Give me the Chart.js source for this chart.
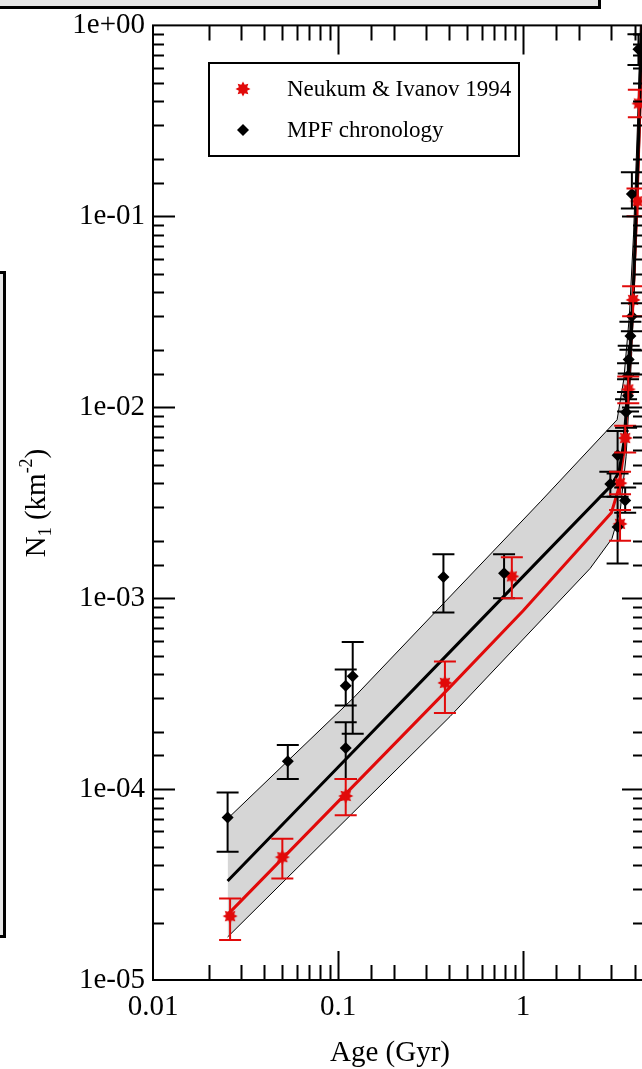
<!DOCTYPE html>
<html>
<head>
<meta charset="utf-8">
<script src="https://cdn.jsdelivr.net/npm/chart.js@4.4.1/dist/chart.umd.min.js"></script>
<style>
  html, body { margin: 0; padding: 0; background: #fff; overflow: hidden; width: 642px; height: 1069px; }
  #wrap { position: absolute; left: 0; top: 0; width: 660px; height: 1069px; }
  .panel { position: absolute; box-sizing: border-box; border: 3px solid #000; background: #e6e6e6; }
</style>
</head>
<body>
<!-- edges of the neighbouring panels, cut off in the original figure -->
<div class="panel" style="left:-4px; top:-4px; width:605px; height:13px;"></div>
<div class="panel" style="left:-4px; top:271px; width:10px; height:667px;"></div>
<div id="wrap"><canvas id="chart" width="660" height="1069"></canvas></div>
<script>
// Tick labels
const xTickLabels = ['0.01', '0.1', '1'];
const yTickLabels = ['1e-05', '1e-04', '1e-03', '1e-02', '1e-01', '1e+00'];

// MPF chronology points (age in Gyr, N1 in km^-2, error bar ends)
const mpfAge  = [0.0253, 0.0535, 0.110, 0.110, 0.120, 0.371, 0.789, 2.96, 3.24, 3.24, 3.56, 3.60, 3.69, 3.69, 3.72, 3.80, 3.87, 3.87, 4.20];
const mpfN    = [7.1e-5, 1.40e-4, 1.64e-4, 3.48e-4, 3.9e-4, 1.29e-3, 1.35e-3, 3.96e-3, 2.36e-3, 5.6e-3, 3.25e-3, 9.4e-3, 0.0115, 0.0146, 0.0178, 0.0236, 0.030, 0.131, 0.75];
const mpfLow  = [4.7e-5, 1.13e-4, 1.13e-4, 2.74e-4, 1.95e-4, 8.4e-4, 1.0e-3, 3.4e-3, 1.52e-3, 4.5e-3, 2.8e-3, 7.8e-3, 0.0095, 0.012, 0.015, 0.020, 0.025, 0.11, 0.62];
const mpfHigh = [9.6e-5, 1.70e-4, 2.24e-4, 4.23e-4, 5.9e-4, 1.70e-3, 1.70e-3, 4.6e-3, 3.4e-3, 7.5e-3, 3.8e-3, 1.1e-2, 0.014, 0.017, 0.021, 0.028, 0.035, 0.17, 0.9];

// Neukum & Ivanov 1994 points
const niAge  = [0.0261, 0.050, 0.110, 0.378, 0.869, 3.34, 3.34, 3.56, 3.70, 3.93, 4.15, 4.22];
const niN    = [2.16e-5, 4.4e-5, 9.2e-5, 3.6e-4, 1.3e-3, 2.45e-3, 4.0e-3, 6.9e-3, 0.0124, 0.0365, 0.12, 0.39];
const niLow  = [1.62e-5, 3.4e-5, 7.3e-5, 2.5e-4, 1.0e-3, 2.0e-3, 3.5e-3, 5.8e-3, 0.0105, 0.030, 0.10, 0.33];
const niHigh = [2.67e-5, 5.5e-5, 1.13e-4, 4.66e-4, 1.64e-3, 2.9e-3, 4.6e-3, 8.0e-3, 0.0145, 0.043, 0.14, 0.46];

// fitted curves
const mpfFitAge = [0.0253, 0.1, 0.4, 1.0, 3.0, 3.3, 3.5, 3.7, 3.85, 4.0, 4.2, 4.38];
const mpfFitN   = [3.3e-5, 1.3e-4, 5.2e-4, 1.3e-3, 3.9e-3, 4.6e-3, 6.5e-3, 0.013, 0.025, 0.06, 0.25, 1.0];
const niFitAge  = [0.0253, 0.1, 0.4, 1.0, 3.0, 3.27, 3.5, 3.7, 3.9, 4.1, 4.25, 4.4];
const niFitN    = [2.2e-5, 8.6e-5, 3.4e-4, 8.6e-4, 2.8e-3, 3.7e-3, 5.8e-3, 0.012, 0.032, 0.1, 0.3, 1.0];

// grey uncertainty band
const bandUpAge = [0.0253, 0.121, 1.24, 3.22, 3.5, 3.75, 3.95, 4.15, 4.3];
const bandUpN   = [7.0e-5, 3.0e-4, 3.2e-3, 8.6e-3, 0.014, 0.03, 0.08, 0.3, 1.0];
const bandLoAge = [0.0253, 0.403, 2.30, 3.02, 3.35, 3.6, 3.85, 4.1, 4.3, 4.45];
const bandLoN   = [1.68e-5, 2.4e-4, 1.43e-3, 2.05e-3, 2.9e-3, 5.5e-3, 0.018, 0.08, 0.3, 1.0];

const RED = 'rgb(225,10,10)';
const FONT = "'Liberation Serif', 'Times New Roman', serif";

function pts(xs, ys) {
    return xs.map((x, i) => ({ x: x, y: ys[i] }));
}

// filled many-pointed red star used as marker
function makeStar() {
    const c = document.createElement('canvas');
    c.width = 16; c.height = 16;
    const g = c.getContext('2d');
    g.fillStyle = RED;
    g.beginPath();
    for (let i = 0; i < 16; i++) {
        const r = i % 2 === 0 ? 7.5 : 4.5;
        const a = i * Math.PI / 8 - Math.PI / 2;
        const px = 8 + r * Math.cos(a), py = 8 + r * Math.sin(a);
        if (i === 0) g.moveTo(px, py); else g.lineTo(px, py);
    }
    g.closePath();
    g.fill();
    return c;
}
const star = makeStar();

function isDecade(v) {
    const p = Math.log10(v);
    return Math.abs(p - Math.round(p)) < 1e-6;
}

// error bars with caps
const errorBars = {
    id: 'errorBars',
    afterDatasetsDraw(chart) {
        const ctx = chart.ctx, a = chart.chartArea;
        const xs = chart.scales.x, ys = chart.scales.y;
        ctx.save();
        ctx.beginPath();
        ctx.rect(a.left, a.top, a.right - a.left, a.bottom - a.top);
        ctx.clip();
        chart.data.datasets.forEach(ds => {
            if (!ds.errLow) return;
            ctx.strokeStyle = ds.borderColor;
            ctx.lineWidth = 2;
            ds.data.forEach((p, i) => {
                const x = xs.getPixelForValue(p.x);
                const y1 = ys.getPixelForValue(ds.errLow[i]);
                const y2 = ys.getPixelForValue(ds.errHigh[i]);
                ctx.beginPath();
                ctx.moveTo(x, y1); ctx.lineTo(x, y2);
                ctx.moveTo(x - 11, y1); ctx.lineTo(x + 11, y1);
                ctx.moveTo(x - 11, y2); ctx.lineTo(x + 11, y2);
                ctx.stroke();
            });
        });
        ctx.restore();
    }
};

// frame, inward ticks on all four sides, titles and legend box
const frame = {
    id: 'frame',
    afterDraw(chart) {
        const ctx = chart.ctx, a = chart.chartArea;
        const xs = chart.scales.x, ys = chart.scales.y;
        ctx.save();
        ctx.strokeStyle = '#000';
        ctx.lineWidth = 2;
        ctx.strokeRect(a.left, a.top, a.right - a.left, a.bottom - a.top);

        ctx.beginPath();
        xs.ticks.forEach(t => {
            if (t.value <= xs.min || t.value >= xs.max) return;
            const len = isDecade(t.value) ? 29 : 15;
            const x = Math.round(xs.getPixelForValue(t.value)) + 0.5;
            ctx.moveTo(x, a.bottom); ctx.lineTo(x, a.bottom - len);
            ctx.moveTo(x, a.top); ctx.lineTo(x, a.top + len);
        });
        ys.ticks.forEach(t => {
            if (t.value <= ys.min || t.value >= ys.max) return;
            const len = isDecade(t.value) ? 22 : 11;
            const y = Math.round(ys.getPixelForValue(t.value)) + 0.5;
            ctx.moveTo(a.left, y); ctx.lineTo(a.left + len, y);
            ctx.moveTo(a.right, y); ctx.lineTo(a.right - len, y);
        });
        ctx.stroke();

        // x title
        ctx.fillStyle = '#000';
        ctx.font = '29px ' + FONT;
        ctx.textAlign = 'center';
        ctx.textBaseline = 'middle';
        ctx.fillText('Age (Gyr)', 390, 1053);

        // y title with subscript and superscript
        const parts = [
            { t: 'N', s: 29, dy: 0 },
            { t: '1', s: 18, dy: 6 },
            { t: ' (km', s: 29, dy: 0 },
            { t: '-2', s: 18, dy: -13 },
            { t: ')', s: 29, dy: 0 }
        ];
        ctx.save();
        ctx.translate(45, 503);
        ctx.rotate(-Math.PI / 2);
        ctx.textAlign = 'left';
        ctx.textBaseline = 'alphabetic';
        let total = 0;
        parts.forEach(p => { ctx.font = p.s + 'px ' + FONT; p.w = ctx.measureText(p.t).width; total += p.w; });
        let cx = -total / 2;
        parts.forEach(p => {
            ctx.font = p.s + 'px ' + FONT;
            ctx.fillText(p.t, cx, p.dy);
            cx += p.w;
        });
        ctx.restore();

        // legend
        ctx.fillStyle = '#fff';
        ctx.fillRect(209, 63, 310, 93);
        ctx.strokeRect(209, 63, 310, 93);
        ctx.drawImage(star, 243 - 8, 89 - 8);
        ctx.fillStyle = '#000';
        ctx.beginPath();
        ctx.moveTo(243, 130 - 6); ctx.lineTo(249, 130); ctx.lineTo(243, 130 + 6); ctx.lineTo(237, 130);
        ctx.closePath();
        ctx.fill();
        ctx.font = '23px ' + FONT;
        ctx.textAlign = 'left';
        ctx.textBaseline = 'middle';
        ctx.fillText('Neukum & Ivanov 1994', 287, 90);
        ctx.fillText('MPF chronology', 287, 131);
        ctx.restore();
    }
};

new Chart(document.getElementById('chart'), {
    type: 'line',
    data: {
        datasets: [
            {
                label: 'MPF chronology',
                data: pts(mpfAge, mpfN),
                errLow: mpfLow, errHigh: mpfHigh,
                showLine: false,
                borderColor: '#000',
                backgroundColor: '#000',
                pointStyle: 'rectRot',
                pointRadius: 6,
                pointBorderWidth: 0
            },
            {
                label: 'Neukum & Ivanov 1994',
                data: pts(niAge, niN),
                errLow: niLow, errHigh: niHigh,
                showLine: false,
                borderColor: RED,
                backgroundColor: RED,
                pointStyle: star,
                pointRadius: 8
            },
            {
                label: 'MPF fit',
                data: pts(mpfFitAge, mpfFitN),
                borderColor: '#000',
                borderWidth: 3,
                pointRadius: 0,
                fill: false
            },
            {
                label: 'NI fit',
                data: pts(niFitAge, niFitN),
                borderColor: RED,
                borderWidth: 3,
                pointRadius: 0,
                fill: false
            },
            {
                label: 'band upper',
                data: pts(bandUpAge, bandUpN),
                borderColor: '#000',
                borderWidth: 1,
                pointRadius: 0,
                backgroundColor: '#d6d6d6',
                fill: '+1'
            },
            {
                label: 'band lower',
                data: pts(bandLoAge, bandLoN),
                borderColor: '#000',
                borderWidth: 1,
                pointRadius: 0,
                fill: false
            }
        ]
    },
    options: {
        responsive: false,
        animation: false,
        events: [],
        layout: { padding: { left: 0, top: 21, right: 16, bottom: 0 } },
        plugins: {
            legend: { display: false },
            tooltip: { enabled: false },
            filler: { drawTime: 'beforeDatasetsDraw' }
        },
        scales: {
            x: {
                type: 'logarithmic',
                position: 'bottom',
                min: 0.01,
                max: 4.5,
                grid: { display: false, drawTicks: false },
                border: { display: false },
                afterFit: s => { s.height = 89; },
                ticks: {
                    autoSkip: false,
                    maxRotation: 0,
                    padding: 10,
                    color: '#000',
                    font: { family: FONT, size: 29 },
                    callback: v => isDecade(v) ? xTickLabels[Math.round(Math.log10(v)) + 2] : ''
                }
            },
            y: {
                type: 'logarithmic',
                position: 'left',
                min: 1e-5,
                max: 1,
                grid: { display: false, drawTicks: false },
                border: { display: false },
                afterFit: s => { s.width = 153; },
                ticks: {
                    autoSkip: false,
                    padding: 8,
                    color: '#000',
                    font: { family: FONT, size: 29 },
                    callback: v => isDecade(v) ? yTickLabels[Math.round(Math.log10(v)) + 5] : ''
                }
            }
        }
    },
    plugins: [errorBars, frame]
});
</script>
</body>
</html>
